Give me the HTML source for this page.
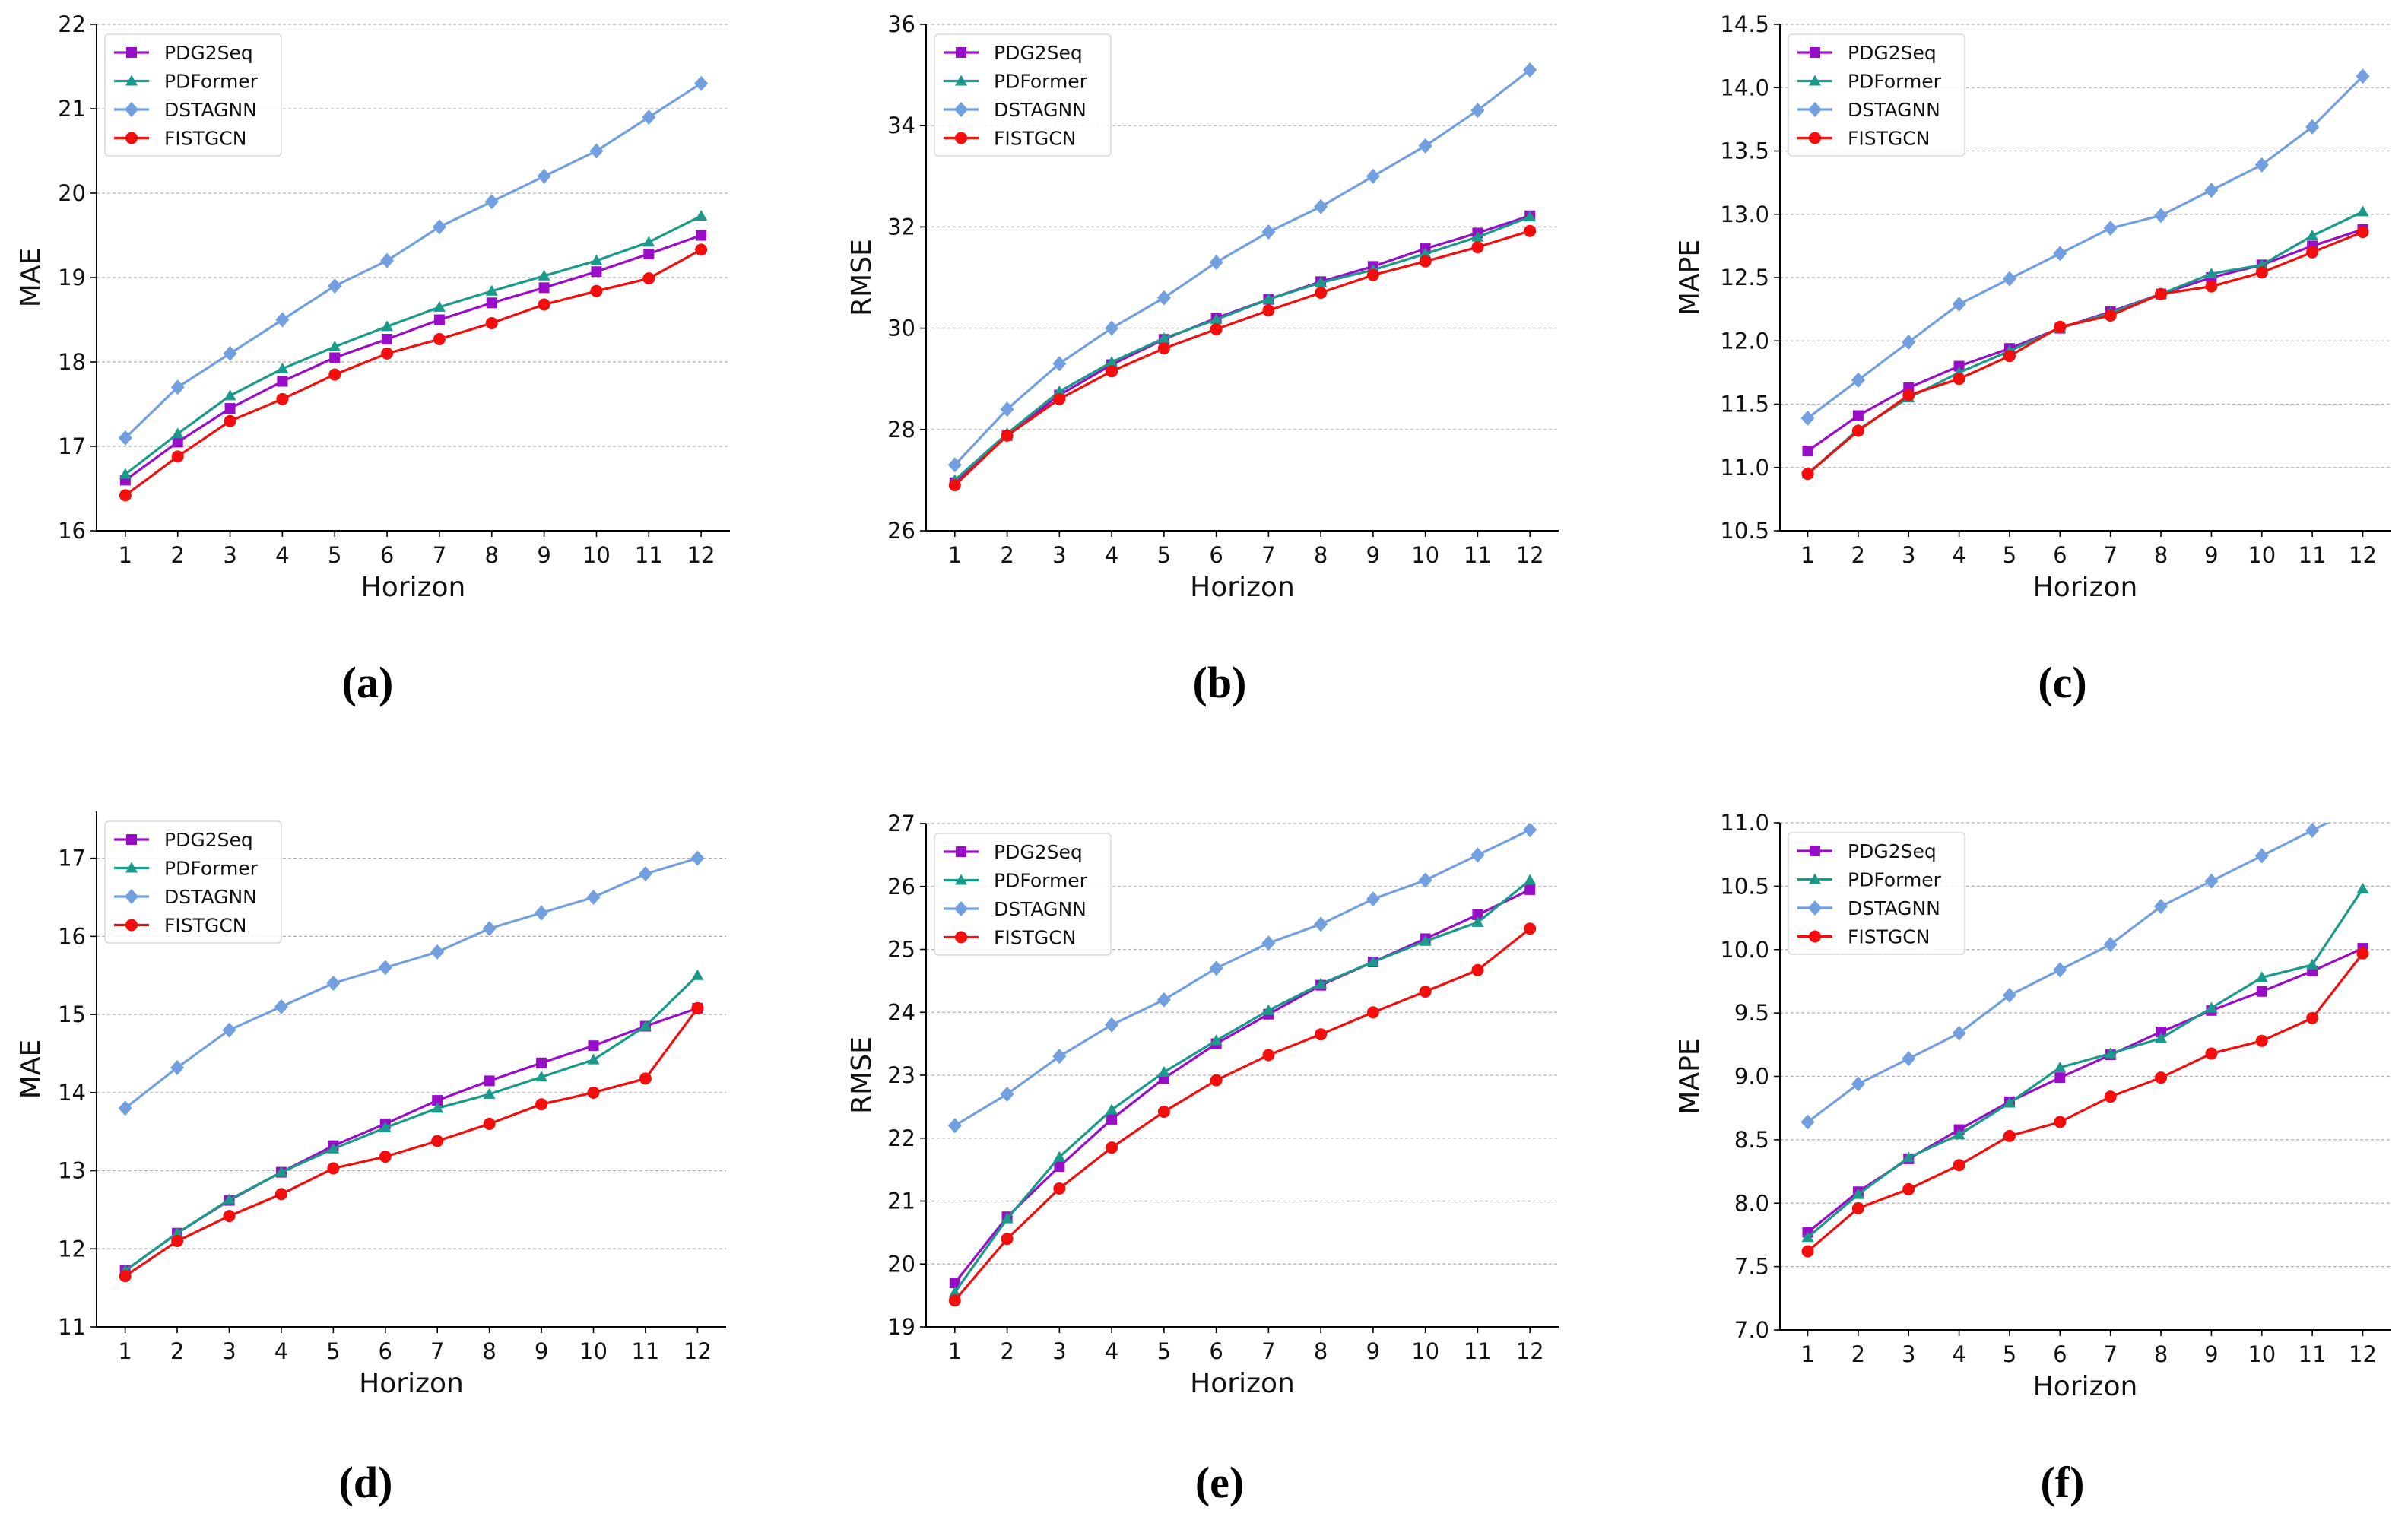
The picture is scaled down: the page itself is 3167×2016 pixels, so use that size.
<!DOCTYPE html>
<html><head><meta charset="utf-8">
<style>
html,body{margin:0;padding:0;background:#fff;}
svg{display:block;}
text{font-family:"DejaVu Sans","Liberation Sans",sans-serif;}
</style></head>
<body>
<svg id="fig" width="3167" height="2016" viewBox="0 0 3167 2016" xmlns="http://www.w3.org/2000/svg"></svg>
<script>
const horizons = [1,2,3,4,5,6,7,8,9,10,11,12];
const seriesNames = ["PDG2Seq","PDFormer","DSTAGNN","FISTGCN"];
// panel (a) MAE
const aPDG2Seq = [16.6,17.05,17.45,17.77,18.05,18.27,18.5,18.7,18.88,19.07,19.28,19.5];
const aPDFormer = [16.67,17.15,17.6,17.92,18.18,18.42,18.65,18.84,19.02,19.2,19.42,19.73];
const aDSTAGNN = [17.1,17.7,18.1,18.5,18.9,19.2,19.6,19.9,20.2,20.5,20.9,21.3];
const aFISTGCN = [16.42,16.88,17.3,17.56,17.85,18.1,18.27,18.46,18.68,18.84,18.99,19.33];
const aTicks = ["16","17","18","19","20","21","22"];
// panel (b) RMSE
const bPDG2Seq = [26.95,27.88,28.68,29.28,29.78,30.2,30.57,30.92,31.22,31.57,31.88,32.22];
const bPDFormer = [27.0,27.92,28.75,29.33,29.8,30.17,30.57,30.9,31.15,31.47,31.8,32.2];
const bDSTAGNN = [27.3,28.4,29.3,30.0,30.6,31.3,31.9,32.4,33.0,33.6,34.3,35.1];
const bFISTGCN = [26.9,27.88,28.6,29.15,29.6,29.98,30.35,30.7,31.05,31.32,31.6,31.92];
const bTicks = ["26","28","30","32","34","36"];
// panel (c) MAPE
const cPDG2Seq = [11.13,11.41,11.63,11.8,11.94,12.1,12.23,12.37,12.5,12.6,12.75,12.88];
const cPDFormer = [10.95,11.3,11.55,11.75,11.92,12.1,12.22,12.37,12.53,12.6,12.83,13.02];
const cDSTAGNN = [11.39,11.69,11.99,12.29,12.49,12.69,12.89,12.99,13.19,13.39,13.69,14.09];
const cFISTGCN = [10.95,11.29,11.57,11.7,11.88,12.11,12.2,12.37,12.43,12.54,12.7,12.86];
const cTicks = ["10.5","11.0","11.5","12.0","12.5","13.0","13.5","14.0","14.5"];
// panel (d) MAE
const dPDG2Seq = [11.72,12.2,12.62,12.98,13.32,13.6,13.9,14.15,14.38,14.6,14.85,15.08];
const dPDFormer = [11.72,12.2,12.63,12.98,13.28,13.55,13.8,13.98,14.2,14.42,14.85,15.5];
const dDSTAGNN = [13.8,14.32,14.8,15.1,15.4,15.6,15.8,16.1,16.3,16.5,16.8,17.0];
const dFISTGCN = [11.65,12.1,12.42,12.7,13.03,13.18,13.38,13.6,13.85,14.0,14.18,15.08];
const dTicks = ["11","12","13","14","15","16","17"];
// panel (e) RMSE
const ePDG2Seq = [19.7,20.75,21.55,22.3,22.95,23.5,23.97,24.43,24.8,25.17,25.55,25.95];
const ePDFormer = [19.55,20.72,21.7,22.45,23.05,23.55,24.03,24.45,24.8,25.13,25.43,26.1];
const eDSTAGNN = [22.2,22.7,23.3,23.8,24.2,24.7,25.1,25.4,25.8,26.1,26.5,26.9];
const eFISTGCN = [19.42,20.4,21.2,21.85,22.42,22.92,23.32,23.65,24.0,24.33,24.67,25.33];
const eTicks = ["19","20","21","22","23","24","25","26","27"];
// panel (f) MAPE
const fPDG2Seq = [7.77,8.09,8.35,8.58,8.8,8.99,9.17,9.35,9.52,9.67,9.83,10.01];
const fPDFormer = [7.73,8.07,8.36,8.54,8.79,9.07,9.18,9.3,9.54,9.78,9.88,10.48];
const fDSTAGNN = [8.64,8.94,9.14,9.34,9.64,9.84,10.04,10.34,10.54,10.74,10.94,11.14];
const fFISTGCN = [7.62,7.96,8.11,8.3,8.53,8.64,8.84,8.99,9.18,9.28,9.46,9.97];
const fTicks = ["7.0","7.5","8.0","8.5","9.0","9.5","10.0","10.5","11.0"];

const colors = ["#9a0dc8","#1a9a8a","#729fe0","#f40d0d"];
const markers = ["square","triangle","diamond","circle"];
const NS = "http://www.w3.org/2000/svg";
const svg = document.getElementById("fig");
function mk(tag, attrs, parent){
  const e = document.createElementNS(NS, tag);
  for (const k in attrs) e.setAttribute(k, attrs[k]);
  (parent||svg).appendChild(e);
  return e;
}
const panels = [
  {id:"a",L:127,R:960,T:32,B:698,ymin:16,ymax:22,ticks:aTicks,ylab:"MAE",data:[aPDG2Seq,aPDFormer,aDSTAGNN,aFISTGCN],yl:40,ty:899},
  {id:"b",L:1218,R:2050,T:32,B:698,ymin:26,ymax:36,ticks:bTicks,ylab:"RMSE",data:[bPDG2Seq,bPDFormer,bDSTAGNN,bFISTGCN],yl:1133,ty:899},
  {id:"c",L:2341,R:3144,T:32,B:698,ymin:10.5,ymax:14.5,ticks:cTicks,ylab:"MAPE",data:[cPDG2Seq,cPDFormer,cDSTAGNN,cFISTGCN],yl:2222,ty:899},
  {id:"d",L:127,R:955,T:1067,B:1745,ymin:11,ymax:17.6,ticks:dTicks,ylab:"MAE",data:[dPDG2Seq,dPDFormer,dDSTAGNN,dFISTGCN],yl:40,ty:1951},
  {id:"e",L:1218,R:2050,T:1083,B:1745,ymin:19,ymax:27,ticks:eTicks,ylab:"RMSE",data:[ePDG2Seq,ePDFormer,eDSTAGNN,eFISTGCN],yl:1133,ty:1951},
  {id:"f",L:2341,R:3144,T:1082,B:1749,ymin:7,ymax:11,ticks:fTicks,ylab:"MAPE",data:[fPDG2Seq,fPDFormer,fDSTAGNN,fFISTGCN],yl:2222,ty:1951}
];
function marker(g, type, x, y, c){
  let m;
  if (type==="square") m = mk("rect",{x:x-7,y:y-7,width:14,height:14,fill:c},g);
  else if (type==="triangle") m = mk("polygon",{points:`${x},${y-8} ${x+8},${y+6} ${x-8},${y+6}`,fill:c},g);
  else if (type==="diamond") m = mk("polygon",{points:`${x},${y-10} ${x+9},${y} ${x},${y+10} ${x-9},${y}`,fill:c},g);
  else m = mk("circle",{cx:x,cy:y,r:8,fill:c},g);
  return m;
}
panels.forEach(p=>{
  const g = mk("g",{});
  
  
  const xs = v => p.L + (v-0.45)/12.1*(p.R-p.L);
  const ys = v => p.B - (v-p.ymin)/(p.ymax-p.ymin)*(p.B-p.T);
  const clip = mk("clipPath",{id:"clip-"+p.id},g);
  mk("rect",{x:p.L,y:p.T,width:p.R-p.L,height:p.B-p.T},clip);
  // grid + y ticks
  p.ticks.forEach(t=>{
    const y = ys(parseFloat(t));
    const gl = mk("line",{x1:p.L,x2:p.R,y1:y,y2:y,stroke:"#b0b0b0","stroke-width":1.2,"stroke-dasharray":"4,3"},g);
    
    
    mk("line",{x1:p.L-8,x2:p.L,y1:y,y2:y,stroke:"#000","stroke-width":1.6},g);
    const tx = mk("text",{x:p.L-14,y:y+10,"font-size":29,"text-anchor":"end",fill:"#111"},g);
    tx.textContent = t;
    
    
  });
  horizons.forEach(h=>{
    const x = xs(h);
    mk("line",{x1:x,x2:x,y1:p.B,y2:p.B+8,stroke:"#000","stroke-width":1.6},g);
    const tx = mk("text",{x:x,y:p.B+42,"font-size":29,"text-anchor":"middle",fill:"#111"},g);
    tx.textContent = h;
    
    
  });
  const sp = mk("path",{d:`M${p.L},${p.T} L${p.L},${p.B} L${p.R},${p.B}`,fill:"none",stroke:"#000","stroke-width":2},g);
  
  
  const xl = mk("text",{x:(p.L+p.R)/2,y:p.B+86,"font-size":36,"text-anchor":"middle",fill:"#111"},g);
  xl.textContent = "Horizon";
  
  
  const yc = (p.T+p.B)/2;
  const yl = mk("text",{x:p.yl,y:yc,"font-size":36,"text-anchor":"middle",transform:`rotate(-90 ${p.yl} ${yc}) translate(0 12)`,fill:"#111"},g);
  yl.textContent = p.ylab;
  
  
  // series
  const sg = mk("g",{"clip-path":`url(#clip-${p.id})`},g);
  p.data.forEach((arr,si)=>{
    const pts = arr.map((v,i)=>`${xs(horizons[i]).toFixed(1)},${ys(v).toFixed(1)}`).join(" ");
    const ln = mk("polyline",{points:pts,fill:"none",stroke:colors[si],"stroke-width":3.2},sg);
    
    
    arr.forEach((v,i)=>{
      const m = marker(sg, markers[si], xs(horizons[i]), ys(v), colors[si]);
      
      
    });
  });
  // legend
  const lx = p.L+11, ly = p.T+13;
  const lg = mk("g",{},g);
  
  
  mk("rect",{x:lx,y:ly,width:232,height:160,rx:5,fill:"#fff","fill-opacity":0.85,stroke:"#d8d8d8","stroke-width":1.5},lg);
  seriesNames.forEach((n,si)=>{
    const y = ly+24+si*37.5;
    mk("line",{x1:lx+12,x2:lx+58,y1:y,y2:y,stroke:colors[si],"stroke-width":3.2},lg);
    marker(lg, markers[si], lx+35, y, colors[si]);
    const t = mk("text",{x:lx+78,y:y+9,"font-size":25,fill:"#111"},lg);
    t.textContent = n;
    
    
  });
  const ti = mk("text",{x:(p.L+p.R)/2+(p.id==="a"||p.id==="d"?-60:-30),y:p.ty+18,"font-size":58,"font-weight":"bold","text-anchor":"middle",fill:"#000",style:"font-family:'Liberation Serif','DejaVu Serif',serif"},g);
  ti.textContent = "("+p.id+")";
  
  
});
</script>
</body></html>
